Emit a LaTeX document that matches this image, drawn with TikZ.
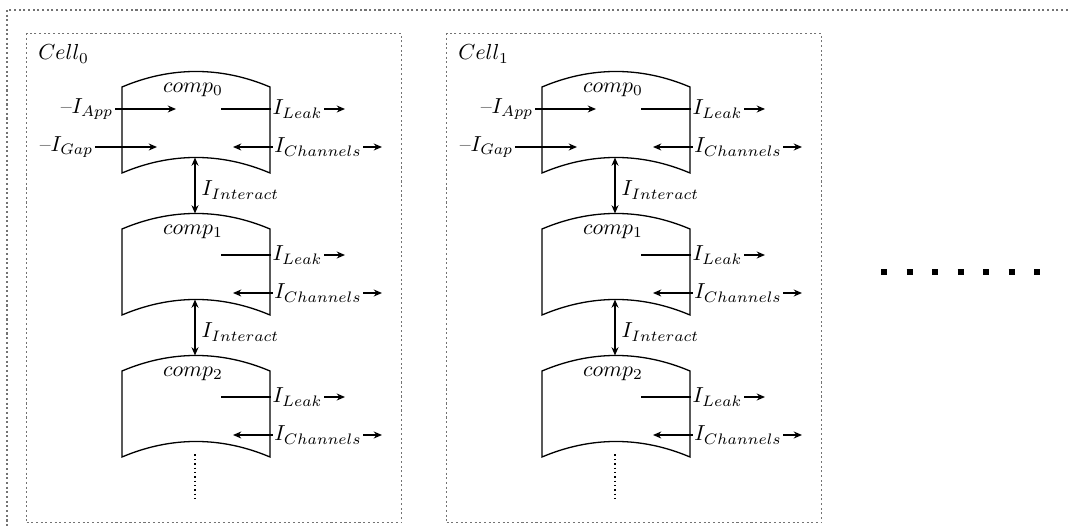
\documentclass[tikz,border=0pt]{standalone}
\usetikzlibrary{arrows.meta,calc}
\begin{document}
\begin{tikzpicture}[x=0.46pt,y=-0.46pt,
  cellframe/.style={draw=black!55, line width=0.6pt, dash pattern=on 0.95pt off 1.2pt},
  compbox/.style={minimum width=68.08pt, minimum height=39.56pt, inner sep=0pt, outer sep=0pt},
  compline/.style={draw=black, line width=0.6pt},
  curlabel/.style={inner sep=0.6pt},
  tip/.style={Stealth[length=3.8pt,width=3.2pt]},
  flowarrow/.style={line width=0.55pt, -{Stealth[length=3.8pt,width=3.2pt]}},
  plainline/.style={line width=0.55pt},
  twoway/.style={line width=0.55pt, {Stealth[length=3.8pt,width=3.2pt]}-{Stealth[length=3.8pt,width=3.2pt]}}]
\useasboundingbox (0,0) rectangle (1069,529);

% enclosing frame, running off the page on the right and bottom
\draw[cellframe] (7,10) rectangle (1095,560);

\foreach \c/\dx in {0/0,1/420} {
  % cell frame and its title
  \node[cellframe, anchor=north west, inner sep=0pt, minimum width=172.5pt, minimum height=224.94pt]
    (cell\c) at (26+\dx,33) {};
  \node[anchor=base west, inner sep=0pt] (celltitle\c) at (38+\dx,60) {$Cell_{\c}$};

  % the three compartments with their leak and channel currents
  \foreach \k/\ly in {0/109,1/255,2/397} {
    \node[compbox] (comp\c\k) at (196+\dx,130+142*\k) {};
    \draw[compline] (comp\c\k.north west)
      .. controls ($(comp\c\k.north west)+(49,-20.7)$) and ($(comp\c\k.north east)+(-49,-20.7)$) .. (comp\c\k.north east)
      -- (comp\c\k.south east)
      .. controls ($(comp\c\k.south east)+(-49,-20.7)$) and ($(comp\c\k.south west)+(49,-20.7)$) .. (comp\c\k.south west)
      -- cycle;
    \coordinate (top\c\k) at ($(comp\c\k.north)+(-1,-15.5)$);
    \coordinate (bot\c\k) at ($(comp\c\k.south)+(-1,-15.5)$);
    \node[anchor=base, inner sep=0pt] (complab\c\k) at (193+\dx,92.5+142*\k) {$comp_{\k}$};

    \coordinate (leakin\c\k) at (221+\dx,\ly);
    \node[curlabel] (leak\c\k) at (297.5+\dx,\ly) {$I_{Leak}$};
    \coordinate (leakout\c\k) at (345+\dx,\ly);
    \draw[plainline] (leakin\c\k) -- (leak\c\k);
    \draw[flowarrow] (leak\c\k) -- (leakout\c\k);

    \coordinate (chanin\c\k) at (233+\dx,\ly+38);
    \node[curlabel] (chan\c\k) at (318+\dx,\ly+38) {$I_{Channels}$};
    \coordinate (chanout\c\k) at (382+\dx,\ly+38);
    \draw[flowarrow] (chan\c\k) -- (chanin\c\k);
    \draw[flowarrow] (chan\c\k) -- (chanout\c\k);
  }

  % applied and gap currents entering the first compartment
  \node[curlabel, anchor=east] (app\c) at (115+\dx,109) {--$I_{App}$};
  \coordinate (append\c) at (176+\dx,109);
  \draw[flowarrow] (app\c) -- (append\c);
  \node[curlabel, anchor=east] (gap\c) at (95+\dx,147) {--$I_{Gap}$};
  \coordinate (gapend\c) at (157+\dx,147);
  \draw[flowarrow] (gap\c) -- (gapend\c);

  % interaction currents between neighbouring compartments
  \foreach \k/\n in {0/1,1/2} {
    \draw[twoway] (bot\c\k) -- (top\c\n);
    \node[curlabel, anchor=west] (inter\c\k) at (200+\dx,190+142*\k) {$I_{Interact}$};
  }

  % further compartments continue below
  \coordinate (more\c) at ($(bot\c2)+(0,13)$);
  \coordinate (moreend\c) at ($(bot\c2)+(0,58)$);
  \draw[line width=0.65pt, dash pattern=on 0.65pt off 1.35pt] (more\c) -- (moreend\c);
}

% further cells continue to the right
\coordinate (etc) at (881,272);
\coordinate (etcend) at (1040,272);
\draw[line width=2.76pt, dash pattern=on 2.76pt off 8.97pt] (etc) -- (etcend);
\end{tikzpicture}
\end{document}
